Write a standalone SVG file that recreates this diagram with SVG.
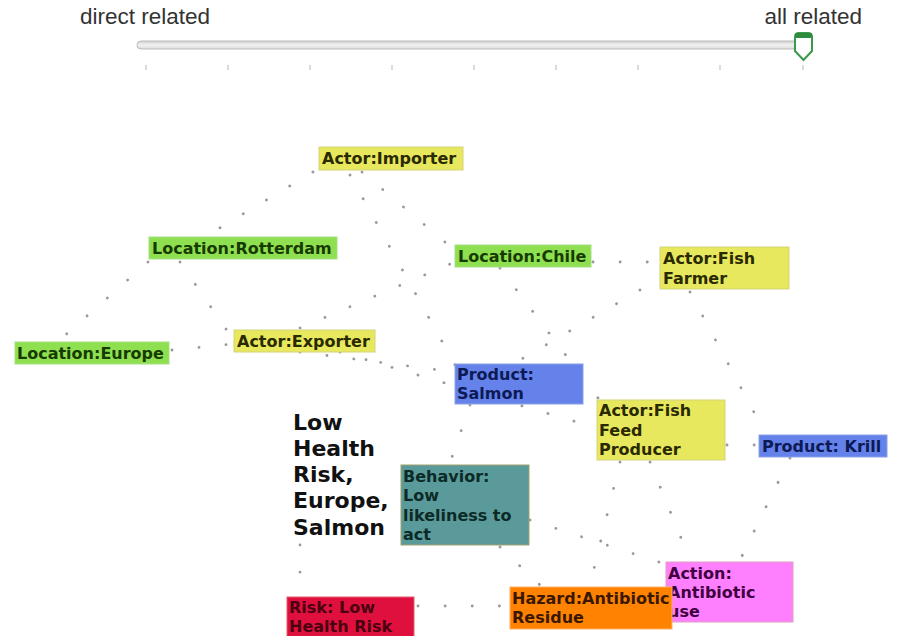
<svg xmlns="http://www.w3.org/2000/svg" width="898" height="636" viewBox="0 0 898 636">
<defs>
<linearGradient id="trk" x1="0" y1="0" x2="0" y2="1">
<stop offset="0" stop-color="#d0d0d0"/><stop offset="0.5" stop-color="#f2f2f2"/><stop offset="1" stop-color="#dcdcdc"/>
</linearGradient>
</defs>
<style>
.lbl{font-family:"Liberation Sans",Arial,sans-serif;font-size:22.5px;fill:#333}
.n{font-family:"DejaVu Sans",Verdana,sans-serif;font-weight:bold;font-size:16px}
.tick{stroke:#b8b8b8;stroke-width:1}
.e{fill:none;stroke:#999999;stroke-width:2.8;stroke-linecap:round;stroke-dasharray:0.1 27}
.yel{fill:#e8e85e;stroke:#d4d47a;stroke-width:1}
.grn{fill:#8ee050;stroke:#a6e080;stroke-width:1}
.blu{fill:#6482ea;stroke:#8aa0e6;stroke-width:1}
.tea{fill:#5a9a9a;stroke:#a0a070;stroke-width:1}
.red{fill:#e0103e;stroke:#e06070;stroke-width:1}
.org{fill:#ff8200;stroke:#ffb060;stroke-width:1}
.pnk{fill:#ff80ff;stroke:#e0a0c0;stroke-width:1}
.ty{fill:#2a2a00}.tg{fill:#173a00}.tb{fill:#0c1a55}.tt{fill:#0c2a26}.tr{fill:#4a0010}.to{fill:#3a1800}.tp{fill:#400040}
</style>
<rect width="898" height="636" fill="#ffffff"/>
<g id="slider">
<text class="lbl" x="80" y="24">direct related</text>
<text class="lbl" x="862" y="24" text-anchor="end">all related</text>
<rect x="137" y="41" width="672" height="8" rx="4" fill="url(#trk)" stroke="#bdbdbd" stroke-width="1"/>
<path class="tick" d="M146,65v5M228,65v5M310,65v5M392,65v5M474,65v5M556,65v5M638,65v5M720,65v5M803,65v5"/>
<path d="M795,37 Q795,33 799,33 L808,33 Q812,33 812,37 L812,51 L803.5,60 L795,51 Z" fill="#ffffff" stroke="#3a9a4a" stroke-width="2"/>
<rect x="795" y="33" width="17" height="5" rx="2" fill="#2e8a3c"/>
</g>
<g id="connectors">
<path class="e" d="M313,172 L208,235"/>
<path class="e" d="M148,262 L62,338"/>
<path class="e" d="M180,262 L228,332"/>
<path class="e" d="M172,350 L232,344"/>
<path class="e" d="M362,172 L452,248"/>
<path class="e" d="M350,175 L455,365"/>
<path class="e" d="M300,328 L455,262"/>
<path class="e" d="M300,352 L455,372"/>
<path class="e" d="M593,262 L658,262"/>
<path class="e" d="M640,290 L520,360"/>
<path class="e" d="M690,292 L765,433"/>
<path class="e" d="M727,445 L757,445"/>
<path class="e" d="M500,268 L598,398"/>
<path class="e" d="M470,405 L450,463"/>
<path class="e" d="M340,352 L597,428"/>
<path class="e" d="M500,547 L540,585"/>
<path class="e" d="M790,458 L740,560"/>
<path class="e" d="M650,462 L690,560"/>
<path class="e" d="M620,462 L590,585"/>
<path class="e" d="M418,606 L508,606"/>
<path class="e" d="M300,545 L300,594"/>
<path class="e" d="M530,520 L668,565"/>
</g>
<g id="importer"><rect class="yel" x="319" y="147" width="144" height="23"/><text class="n ty" x="322" y="164">Actor:Importer</text></g>
<g id="rotterdam"><rect class="grn" x="149" y="237" width="188" height="22"/><text class="n tg" x="152" y="254">Location:Rotterdam</text></g>
<g id="chile"><rect class="grn" x="455" y="245" width="136" height="22"/><text class="n tg" x="458" y="262">Location:Chile</text></g>
<g id="fishfarmer"><rect class="yel" x="660" y="247" width="129" height="42"/><text class="n ty" x="663" y="264">Actor:Fish</text><text class="n ty" x="663" y="284">Farmer</text></g>
<g id="europe"><rect class="grn" x="15" y="342" width="154" height="22"/><text class="n tg" x="17" y="359">Location:Europe</text></g>
<g id="exporter"><rect class="yel" x="234" y="330" width="141" height="22"/><text class="n ty" x="237" y="347">Actor:Exporter</text></g>
<g id="salmon"><rect class="blu" x="455" y="364" width="128" height="40"/><text class="n tb" x="457" y="380">Product:</text><text class="n tb" x="457" y="399">Salmon</text></g>
<g id="feedproducer"><rect class="yel" x="597" y="400" width="128" height="60"/><text class="n ty" x="599" y="416">Actor:Fish</text><text class="n ty" x="599" y="436">Feed</text><text class="n ty" x="599" y="455">Producer</text></g>
<g id="krill"><rect class="blu" x="759" y="435" width="128" height="22"/><text class="n tb" x="762" y="452">Product: Krill</text></g>
<g id="title"><text font-family="DejaVu Sans,Verdana,sans-serif" font-weight="bold" font-size="22" fill="#111"><tspan x="293" y="430">Low</tspan><tspan x="293" y="456">Health</tspan><tspan x="293" y="482">Risk,</tspan><tspan x="293" y="508">Europe,</tspan><tspan x="293" y="535">Salmon</tspan></text></g>
<g id="behavior"><rect class="tea" x="401" y="465" width="128" height="80"/><text class="n tt" x="403" y="482">Behavior:</text><text class="n tt" x="403" y="501">Low</text><text class="n tt" x="403" y="521">likeliness to</text><text class="n tt" x="403" y="540">act</text></g>
<g id="action"><rect class="pnk" x="666" y="562" width="127" height="60"/><text class="n tp" x="668" y="579">Action:</text><text class="n tp" x="668" y="598">Antibiotic</text><text class="n tp" x="668" y="617">use</text></g>
<g id="risk"><rect class="red" x="287" y="597" width="127" height="42"/><text class="n tr" x="289" y="613">Risk: Low</text><text class="n tr" x="289" y="632">Health Risk</text></g>
<g id="hazard"><rect class="org" x="510" y="587" width="162" height="42"/><text class="n to" x="512" y="604">Hazard:Antibiotic</text><text class="n to" x="512" y="623">Residue</text></g>
</svg>
